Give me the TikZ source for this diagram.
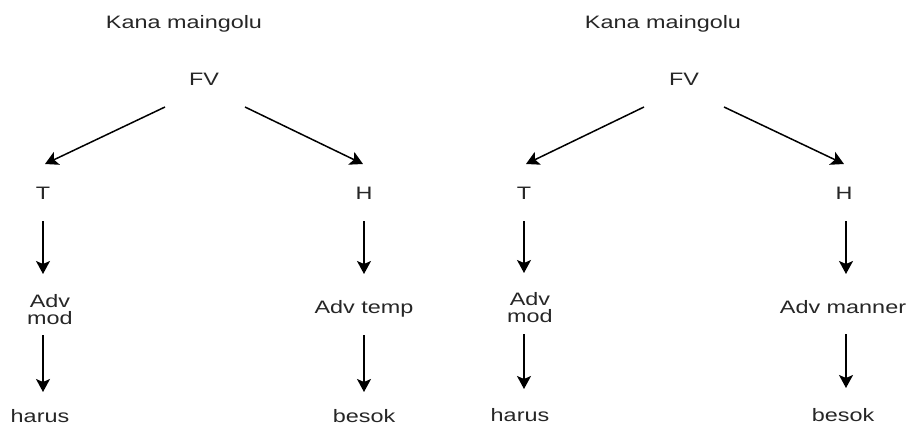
\documentclass[tikz,border=0pt]{standalone}
\usepackage{fontspec}
\setmainfont{Liberation Sans}[FakeStretch=1.3]
\usetikzlibrary{arrows.meta}

\tikzset{
  lbl/.style={inner sep=0pt, text height=12.5pt, text depth=0pt, font=\fontsize{18}{21}\selectfont, text=black!85},
  arr/.style={line width=1.5pt, -{Stealth[length=13pt,width=14pt,inset=3pt]}}
}

\begin{document}
\begin{tikzpicture}[x=1pt, y=-1pt]
\useasboundingbox (0,0) rectangle (908,425);

% Left tree
\node[lbl] (kana1) at (184,22) {Kana maingolu};
\node[lbl] (fv1) at (204,79) {FV};
\node[lbl] (t1) at (43,193) {T};
\node[lbl] (h1) at (364,193) {H};
\node[lbl, align=center, text height=, text depth=] (adv1) at (50,310) {Adv\\[-4pt]mod};
\node[lbl] (advt1) at (364,307) {Adv temp};
\node[lbl] (harus1) at (40,416) {harus};
\node[lbl] (besok1) at (364,416) {besok};

\draw[arr] ([shift={(-39,28)}]fv1.center) -- ([shift={(2,-29)}]t1.center);
\draw[arr] ([shift={(41,28)}]fv1.center) -- ([shift={(-1,-29)}]h1.center);
\draw[arr] ([shift={(0,28)}]t1.center) -- ([shift={(-7,-36)}]adv1.center);
\draw[arr] ([shift={(-7,25)}]adv1.center) -- ([shift={(3,-24)}]harus1.center);
\draw[arr] ([shift={(0,28)}]h1.center) -- ([shift={(0,-33)}]advt1.center);
\draw[arr] ([shift={(0,28)}]advt1.center) -- ([shift={(0,-24)}]besok1.center);

% Right tree
\node[lbl] (kana2) at (663,22) {Kana maingolu};
\node[lbl] (fv2) at (684,79) {FV};
\node[lbl] (t2) at (524,193) {T};
\node[lbl] (h2) at (844,193) {H};
\node[lbl, align=center, text height=, text depth=] (adv2) at (530,308) {Adv\\[-4pt]mod};
\node[lbl] (advm2) at (843,307) {Adv manner};
\node[lbl] (harus2) at (520,415) {harus};
\node[lbl] (besok2) at (843,415) {besok};

\draw[arr] ([shift={(-40,28)}]fv2.center) -- ([shift={(2,-29)}]t2.center);
\draw[arr] ([shift={(40,28)}]fv2.center) -- ([shift={(0,-29)}]h2.center);
\draw[arr] ([shift={(0,28)}]t2.center) -- ([shift={(-6,-35)}]adv2.center);
\draw[arr] ([shift={(-6,26)}]adv2.center) -- ([shift={(4,-26)}]harus2.center);
\draw[arr] ([shift={(2,28)}]h2.center) -- ([shift={(3,-33)}]advm2.center);
\draw[arr] ([shift={(3,27)}]advm2.center) -- ([shift={(3,-27)}]besok2.center);

\end{tikzpicture}
\end{document}
